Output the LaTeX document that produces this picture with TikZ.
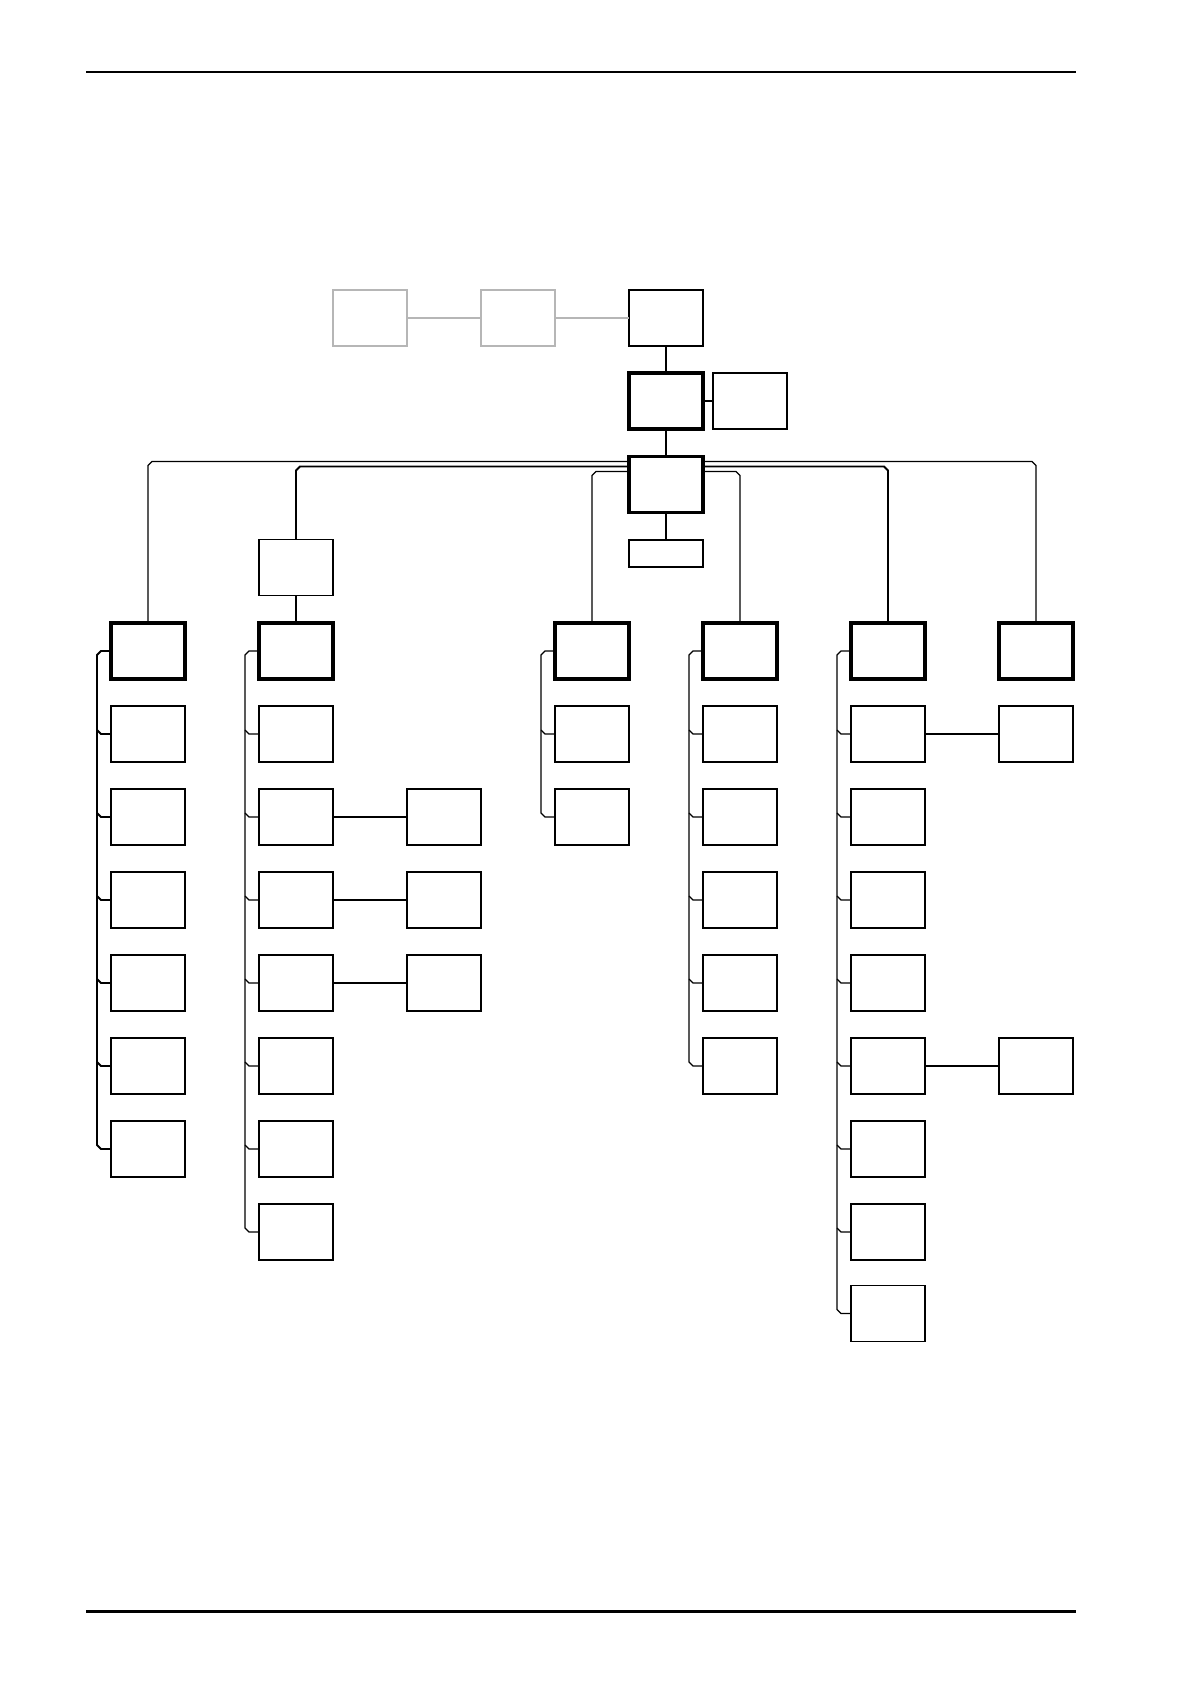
\documentclass[tikz,border=0pt]{standalone}
\usetikzlibrary{calc}
\definecolor{lgray}{RGB}{182,182,182}
\begin{document}
\begin{tikzpicture}[x=0.5pt,y=-0.5pt,
  box/.style={draw,rectangle,minimum width=37pt,minimum height=28pt,inner sep=0pt,outer sep=0pt,line width=0.6pt},
  boldbox/.style={box,line width=1.8pt},
  graybox/.style={box,draw=lgray,line width=0.8pt},
  link/.style={line width=0.6pt},
  heavylink/.style={line width=0.9pt},
  graylink/.style={draw=lgray,line width=0.6pt}]
\useasboundingbox (0,0) rectangle (1191,1684);

% header and footer rules
\coordinate (hl) at (86,72);  \coordinate (hr) at (1076,72);
\coordinate (fl) at (86,1611); \coordinate (fr) at (1076,1611);
\draw[line width=0.8pt] (hl) -- (hr);
\draw[line width=1.5pt] (fl) -- (fr);

% top chain
\node[graybox] (g1) at (370,318) {};
\node[graybox] (g2) at (518,318) {};
\node[box,line width=0.7pt] (t3) at (666,318) {};
\node[boldbox] (b2) at (666,401) {};
\node[box,line width=0.8pt] (side) at (750,401) {};
\node[boldbox] (main) at (666,484.5) {};
\node[box,minimum height=13.5pt] (small) at (666,553.5) {};
\node[box] (inter) at (296,567.5) {};

% column heads
\node[boldbox] (c1top) at (148,651) {};
\node[boldbox] (c2top) at (296,651) {};
\node[boldbox] (c4top) at (592,651) {};
\node[boldbox] (c5top) at (740,651) {};
\node[boldbox] (c6top) at (888,651) {};
\node[boldbox] (c7top) at (1036,651) {};

% children
\foreach \i in {1,...,6} \node[box] (c1c\i) at (148,{651+83*\i}) {};
\foreach \i in {1,...,7} \node[box] (c2c\i) at (296,{651+83*\i}) {};
\foreach \i in {1,...,2} \node[box] (c4c\i) at (592,{651+83*\i}) {};
\foreach \i in {1,...,5} \node[box] (c5c\i) at (740,{651+83*\i}) {};
\foreach \i in {1,...,7} \node[box] (c6c\i) at (888,{651+83*\i}) {};
\node[box] (c6c8) at (888,1313.5) {};

% side boxes
\node[box] (x1) at (444,817) {};
\node[box] (x2) at (444,900) {};
\node[box] (x3) at (444,983) {};
\node[box] (y1) at (1036,734) {};
\node[box] (y2) at (1036,1066) {};

% top links
\draw[graylink] (g1.east) -- (g2.west);
\draw[graylink] (g2.east) -- (t3.west);
\draw[link] (t3.south) -- (b2.north);
\draw[link] (b2.east) -- (side.west);
\draw[link] (b2.south) -- (main.north);
\draw[link] (main.south) -- (small.north);

% bus lines
\draw[link] ($(main.north west)+(0,5)$) -- ($(c1top.north |- main.north)+(4,5)$) -- ++(-4,4) -- (c1top.north);
\draw[heavylink] ($(main.north west)+(0,10)$) -- ($(inter.north |- main.north)+(4,10)$) -- ++(-4,4) -- (inter.north);
\draw[link] (inter.south) -- (c2top.north);
\draw[link] ($(main.north west)+(0,15)$) -- ($(c4top.north |- main.north)+(4,15)$) -- ++(-4,4) -- (c4top.north);
\draw[link] ($(main.north east)+(0,15)$) -- ($(c5top.north |- main.north)+(-4,15)$) -- ++(4,4) -- (c5top.north);
\draw[heavylink] ($(main.north east)+(0,10)$) -- ($(c6top.north |- main.north)+(-4,10)$) -- ++(4,4) -- (c6top.north);
\draw[link] ($(main.north east)+(0,5)$) -- ($(c7top.north |- main.north)+(-4,5)$) -- ++(4,4) -- (c7top.north);

% spines
\draw[line width=0.9pt] (c1top.west) -- ++(-10,0) -- ++(-4,4) -- ($(c1c6.west)+(-14,-4)$) -- ++(4,4) -- (c1c6.west);
\foreach \i in {1,...,5} \draw[line width=0.9pt] (c1c\i.west) -- ++(-10,0) -- ++(-4,-4);

\draw[link] (c2top.west) -- ++(-10,0) -- ++(-4,4) -- ($(c2c7.west)+(-14,-4)$) -- ++(4,4) -- (c2c7.west);
\foreach \i in {1,...,6} \draw[link] (c2c\i.west) -- ++(-10,0) -- ++(-4,-4);

\draw[link] (c4top.west) -- ++(-10,0) -- ++(-4,4) -- ($(c4c2.west)+(-14,-4)$) -- ++(4,4) -- (c4c2.west);
\draw[link] (c4c1.west) -- ++(-10,0) -- ++(-4,-4);

\draw[link] (c5top.west) -- ++(-10,0) -- ++(-4,4) -- ($(c5c5.west)+(-14,-4)$) -- ++(4,4) -- (c5c5.west);
\foreach \i in {1,...,4} \draw[link] (c5c\i.west) -- ++(-10,0) -- ++(-4,-4);

\draw[link] (c6top.west) -- ++(-10,0) -- ++(-4,4) -- ($(c6c8.west)+(-14,-4)$) -- ++(4,4) -- (c6c8.west);
\foreach \i in {1,...,7} \draw[link] (c6c\i.west) -- ++(-10,0) -- ++(-4,-4);

% cross links
\draw[link] (c2c2.east) -- (x1.west);
\draw[link] (c2c3.east) -- (x2.west);
\draw[heavylink] (c2c4.east) -- (x3.west);
\draw[link] (c6c1.east) -- (y1.west);
\draw[line width=1.1pt] (c6c5.east) -- (y2.west);
\end{tikzpicture}
\end{document}
